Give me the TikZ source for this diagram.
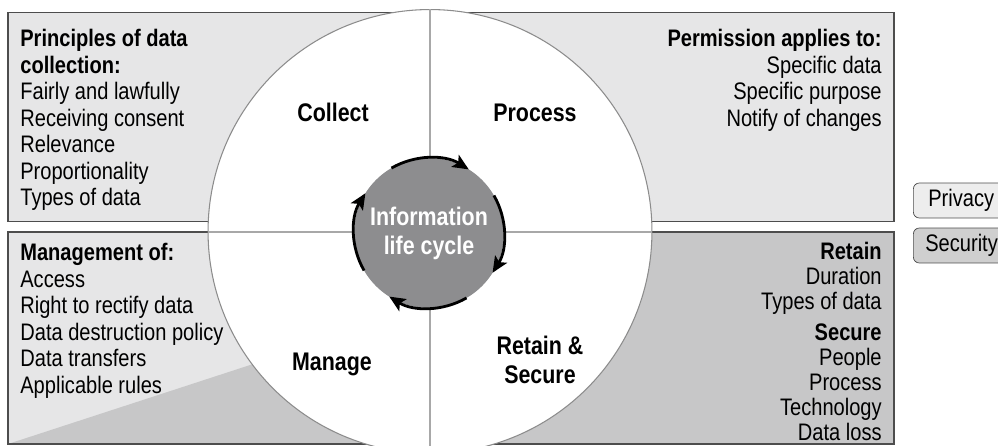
\documentclass[tikz,border=0pt]{standalone}
\usepackage{fontspec}
\setmainfont{Liberation Sans}[FakeStretch=0.84]
\usetikzlibrary{arrows.meta}
\definecolor{lightbox}{HTML}{E6E6E7}
\definecolor{darkbox}{HTML}{C7C7C8}
\definecolor{cyclegrey}{HTML}{8D8D8F}
\definecolor{edgegrey}{HTML}{4D4D4D}
\definecolor{quadgrey}{HTML}{A8A8A8}
\begin{document}
\begin{tikzpicture}[x=0.02cm,y=-0.02cm,
   box/.style={draw=edgegrey,line width=0.8pt},
   listtext/.style={inner sep=0pt,text=black,font=\fontsize{13.6}{15.1}\selectfont},
   phase/.style={inner sep=0pt,align=center,font=\bfseries\fontsize{14.5}{16.5}\selectfont},
   cyclearrow/.style={line width=1.6pt,-{Stealth[length=0.32cm,width=0.28cm,inset=0.07cm]}},
   legend/.style={draw=edgegrey,rounded corners=0.12cm,anchor=west,align=left,
     minimum height=0.7cm,text width=2cm,inner xsep=0.3cm,font=\fontsize{13.6}{15.1}\selectfont}]
   \useasboundingbox (0,0) rectangle (998,446);
   \clip (0,0) rectangle (998,446);
   % quadrant boxes
   \draw[box,fill=lightbox] (8,12.5) rectangle (431,221.5);
   \draw[box,fill=lightbox] (431,12.5) rectangle (894,221.5);
   \draw[box,fill=lightbox] (8,232) rectangle (431,444);
   \fill[darkbox] (8,444) -- (431,306) -- (431,444) -- cycle;
   \draw[box] (8,232) rectangle (431,444);
   \draw[box,fill=darkbox] (431,232) rectangle (894,444);
   % the big circle
   \draw[fill=white,draw=black!45,line width=0.6pt] (430,231.5) circle[radius=4.44cm];
   \draw[quadgrey,line width=0.8pt] (430,9.5) -- (430,446) (208,232) -- (652,232);
   % lists
   \node[listtext,anchor=north west,align=left] (collectlist) at (20,29)
     {\textbf{Principles of data}\\\textbf{collection:}\\Fairly and lawfully\\
      Receiving consent\\Relevance\\Proportionality\\Types of data};
   \node[listtext,anchor=north east,align=right] (processlist) at (882,29)
     {\textbf{Permission applies to:}\\Specific data\\Specific purpose\\Notify of changes};
   \node[listtext,anchor=north west,align=left] (managelist) at (20,243)
     {\textbf{Management of:}\\Access\\Right to rectify data\\Data destruction policy\\
      Data transfers\\Applicable rules};
   \node[listtext,anchor=north east,align=right,font=\fontsize{13.6}{14.2}\selectfont] (retainlist) at (882,242)
     {\textbf{Retain}\\Duration\\Types of data\\[3.5pt]\textbf{Secure}\\People\\Process\\
      Technology\\Data loss};
   % phases
   \node[phase] (collect) at (333,112.5) {Collect};
   \node[phase] (process) at (535,112.5) {Process};
   \node[phase] (manage) at (332,364) {Manage};
   \node[phase] (retain) at (540,360) {Retain \&\\Secure};
   % life cycle
   \node[phase,circle,fill=cyclegrey,text=white,minimum size=3cm,outer sep=0pt] (cycle) at (429,233)
     {Information\\life cycle};
   \foreach \a in {120,30,-60,-150}
     \draw[cyclearrow] (cycle.\a) arc[start angle=\a,end angle=\a-62,radius=1.5cm];
   % legend
   \node[legend,fill=black!7] (privacy) at (913,200.5) {Privacy};
   \node[legend,fill=black!19,inner xsep=0.24cm] (security) at (913,245.5) {Security};
\end{tikzpicture}
\end{document}
